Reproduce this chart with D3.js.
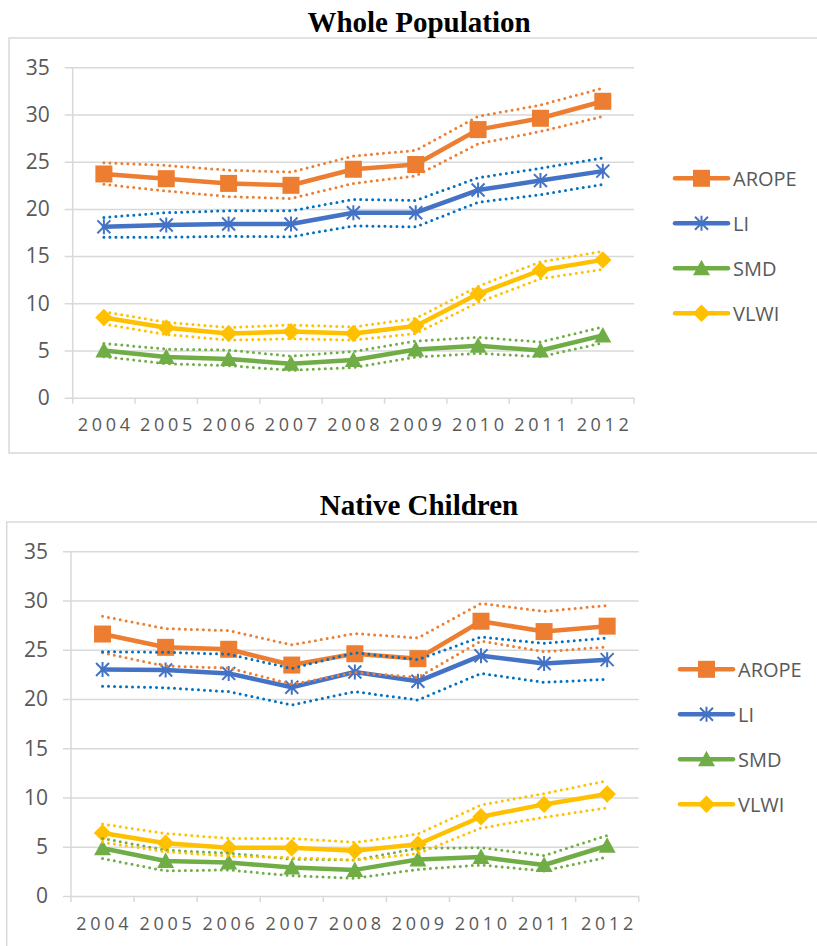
<!DOCTYPE html>
<html><head><meta charset="utf-8">
<script src="https://cdn.jsdelivr.net/npm/d3@7"></script>
<style>body{margin:0;background:#fff}svg{display:block}</style>
</head><body>
<svg id="c" width="817" height="946"></svg>
<script>
const years = ["2004","2005","2006","2007","2008","2009","2010","2011","2012"];
const yTicks = [0,5,10,15,20,25,30,35];
const seriesNames = ["AROPE","LI","SMD","VLWI"];

// Whole Population
const wpAROPE   = [23.7, 23.2, 22.7, 22.5, 24.2, 24.7, 28.4, 29.6, 31.4];
const wpAROPEhi = [24.9, 24.6, 24.1, 23.9, 25.6, 26.2, 29.8, 31.0, 32.8];
const wpAROPElo = [22.6, 21.9, 21.3, 21.1, 22.7, 23.5, 26.9, 28.2, 29.8];
const wpLI      = [18.1, 18.3, 18.4, 18.4, 19.6, 19.6, 22.0, 23.0, 24.0];
const wpLIhi    = [19.1, 19.6, 19.8, 19.8, 21.0, 20.9, 23.3, 24.3, 25.4];
const wpLIlo    = [17.0, 17.0, 17.1, 17.05, 18.2, 18.1, 20.7, 21.5, 22.6];
const wpSMD     = [5.0, 4.3, 4.1, 3.6, 4.0, 5.1, 5.5, 5.0, 6.6];
const wpSMDhi   = [5.75, 5.15, 5.05, 4.4, 4.9, 6.0, 6.4, 5.9, 7.5];
const wpSMDlo   = [4.35, 3.6, 3.4, 2.9, 3.2, 4.3, 4.7, 4.35, 5.8];
const wpVLWI    = [8.5, 7.4, 6.8, 7.0, 6.8, 7.6, 11.0, 13.5, 14.6];
const wpVLWIhi  = [9.1, 8.0, 7.45, 7.7, 7.5, 8.4, 11.8, 14.4, 15.5];
const wpVLWIlo  = [7.8, 6.7, 6.1, 6.25, 6.1, 6.8, 10.1, 12.6, 13.6];

// Native Children
const ncAROPE   = [26.6, 25.25, 25.05, 23.45, 24.6, 24.1, 27.9, 26.85, 27.4];
const ncAROPEhi = [28.4, 27.15, 26.95, 25.5, 26.65, 26.2, 29.7, 28.9, 29.5];
const ncAROPElo = [24.7, 23.35, 23.15, 21.5, 22.7, 22.2, 25.9, 24.8, 25.3];
const ncLI      = [23.0, 22.95, 22.6, 21.2, 22.75, 21.8, 24.4, 23.6, 24.0];
const ncLIhi    = [24.8, 24.75, 24.55, 23.1, 24.7, 24.0, 26.3, 25.65, 26.2];
const ncLIlo    = [21.3, 21.15, 20.75, 19.4, 20.75, 19.9, 22.6, 21.7, 22.0];
const ncSMD     = [4.85, 3.55, 3.4, 2.9, 2.65, 3.7, 3.95, 3.15, 5.1];
const ncSMDhi   = [5.85, 4.65, 4.35, 3.75, 3.65, 4.85, 4.9, 4.1, 6.15];
const ncSMDlo   = [3.8, 2.55, 2.65, 2.05, 1.8, 2.7, 3.15, 2.55, 3.95];
const ncVLWI    = [6.4, 5.35, 4.9, 4.9, 4.6, 5.25, 8.05, 9.3, 10.35];
const ncVLWIhi  = [7.3, 6.35, 5.85, 5.85, 5.45, 6.3, 9.25, 10.4, 11.7];
const ncVLWIlo  = [5.45, 4.5, 4.05, 3.9, 3.65, 4.3, 6.9, 8.0, 8.95];

const colors = {AROPE:"#ED7D31", LI:"#4472C4", SMD:"#70AD47", VLWI:"#FFC000"};
const dotColors = {AROPE:"#ED7D31", LI:"#0070C0", SMD:"#70AD47", VLWI:"#FFC000"};

const panels = [
  {title:"Whole Population", frame:{x:9,y:38}, titleY:31.5, left:72.7, right:634, top:67.3, bottom:397.7,
   legX:675, legY:178.3,
   data:{AROPE:[wpAROPE,wpAROPEhi,wpAROPElo], LI:[wpLI,wpLIhi,wpLIlo], SMD:[wpSMD,wpSMDhi,wpSMDlo], VLWI:[wpVLWI,wpVLWIhi,wpVLWIlo]},
   frameH:415},
  {title:"Native Children", frame:{x:6.7,y:522}, titleY:515, left:71, right:638.7, top:551.3, bottom:896,
   legX:680, legY:669.3,
   data:{AROPE:[ncAROPE,ncAROPEhi,ncAROPElo], LI:[ncLI,ncLIhi,ncLIlo], SMD:[ncSMD,ncSMDhi,ncSMDlo], VLWI:[ncVLWI,ncVLWIhi,ncVLWIlo]},
   frameH:460}
];

const svg = d3.select("#c");
const grid = "#d9d9d9", txt = "#595959";
const font = "'Open Sans', sans-serif";

function marker(g, name, cx, cy) {
  const c = colors[name];
  if (name === "AROPE") {
    g.append("rect").attr("x", cx-8.5).attr("y", cy-8.5).attr("width",17).attr("height",17).attr("fill", c);
  } else if (name === "LI") {
    const r = 7.5, d = r*0.866;
    const p = `M${cx},${cy-r}L${cx},${cy+r}M${cx-d},${cy-d}L${cx+d},${cy+d}M${cx-d},${cy+d}L${cx+d},${cy-d}`;
    g.append("path").attr("d", p).attr("stroke", c).attr("stroke-width", 2).attr("fill","none");
  } else if (name === "SMD") {
    g.append("path").attr("d", `M${cx},${cy-8.5}L${cx+8.5},${cy+7}L${cx-8.5},${cy+7}Z`).attr("fill", c);
  } else {
    g.append("path").attr("d", `M${cx},${cy-8.7}L${cx+8.7},${cy}L${cx},${cy+8.7}L${cx-8.7},${cy}Z`).attr("fill", c);
  }
}

panels.forEach(P => {
  const g = svg.append("g");
  g.append("rect").attr("x", P.frame.x).attr("y", P.frame.y).attr("width", 900).attr("height", P.frameH)
    .attr("fill","none").attr("stroke", grid).attr("stroke-width", 1.5);
  g.append("text").attr("x", 419).attr("y", P.titleY).attr("text-anchor","middle")
    .attr("font-family","'Liberation Serif','Times New Roman',serif").attr("font-weight","bold")
    .attr("font-size", 29).attr("fill","#000").text(P.title);

  const x = d3.scaleBand().domain(years).range([P.left, P.right]);
  const y = d3.scaleLinear().domain([0,35]).range([P.bottom, P.top]);

  const yAxis = d3.axisLeft(y).tickValues(yTicks).tickSize(-(P.right - P.left + 8)).tickPadding(0).tickFormat(d3.format("d"));
  const ya = g.append("g").attr("transform", `translate(${P.left-8},0)`).call(yAxis);
  ya.select(".domain").remove();
  ya.selectAll("line").attr("stroke", grid).attr("stroke-width", 1.5);
  ya.selectAll("text").attr("x", -15).attr("font-family", font).attr("font-size", 21).attr("fill", txt);
  g.append("line").attr("x1", P.left).attr("x2", P.left).attr("y1", P.top).attr("y2", P.bottom)
    .attr("stroke", grid).attr("stroke-width", 1.5);
  const bounds = years.map(d => x(d)).concat([x(years[years.length-1]) + x.bandwidth()]);
  g.selectAll(null).data(bounds).join("line")
    .attr("x1", d=>d).attr("x2", d=>d).attr("y1", P.bottom).attr("y2", P.bottom+6)
    .attr("stroke", grid).attr("stroke-width", 1.5);
  g.selectAll(null).data(years).join("text")
    .attr("x", d => x(d) + x.bandwidth()/2 + 1.8).attr("y", P.bottom + 33.5)
    .attr("text-anchor","middle").attr("font-family", font).attr("font-size", 18)
    .attr("letter-spacing", 3.7).attr("fill", txt).text(d=>d);

  const line = d3.line().x((d,i) => x(years[i]) + x.bandwidth()/2).y(d => y(d));

  seriesNames.forEach(name => {
    const vals = P.data[name][0];
    g.append("path").attr("d", line(vals)).attr("fill","none").attr("stroke", colors[name])
      .attr("stroke-width", 4.5).attr("stroke-linejoin","round").attr("stroke-linecap","round");
    const mg = g.append("g");
    vals.forEach((v,i) => marker(mg, name, x(years[i]) + x.bandwidth()/2, y(v)));
  });
  seriesNames.forEach(name => {
    [1,2].forEach(k => {
      g.append("path").attr("d", line(P.data[name][k])).attr("fill","none").attr("stroke", dotColors[name])
        .attr("stroke-width", 3).attr("stroke-dasharray","0 6").attr("stroke-linecap","round");
    });
  });

  seriesNames.forEach((name, i) => {
    const ly = P.legY + i*45;
    const lg = g.append("g");
    lg.append("line").attr("x1", P.legX).attr("x2", P.legX+53).attr("y1", ly).attr("y2", ly)
      .attr("stroke", colors[name]).attr("stroke-width", 4.5).attr("stroke-linecap","round");
    marker(lg, name, P.legX + 26.5, ly);
    lg.append("text").attr("x", P.legX + 58).attr("y", ly).attr("dy","0.36em")
      .attr("font-family", font).attr("font-size", 20).attr("fill", txt).text(name);
  });
});
</script>
</body></html>
